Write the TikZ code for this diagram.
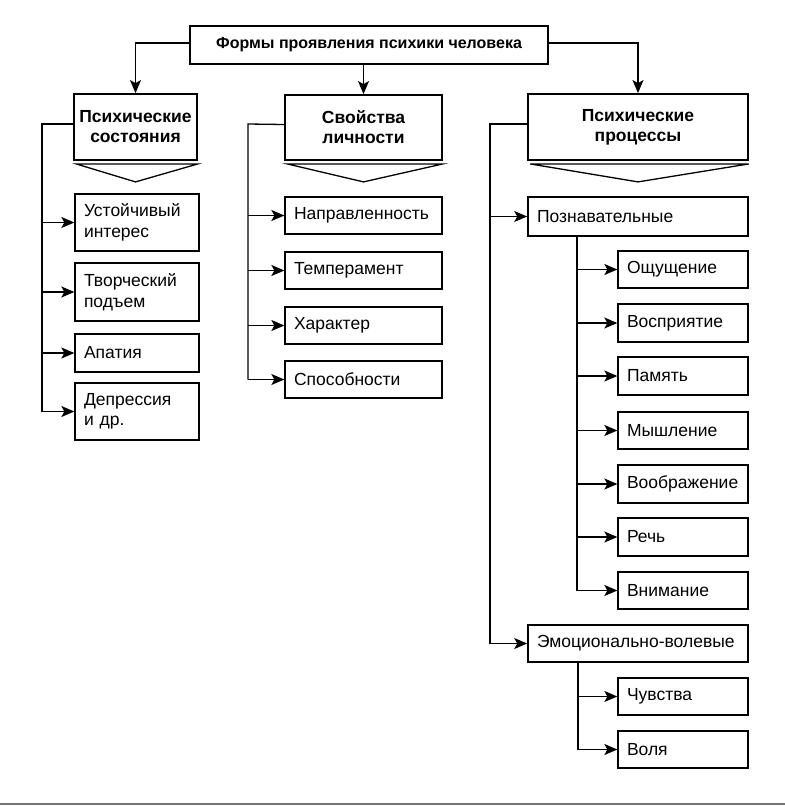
\documentclass[tikz,border=0pt]{standalone}
\usepackage{fontspec}
\setmainfont{Liberation Sans}
\usetikzlibrary{arrows.meta}
\begin{document}
\begin{tikzpicture}[x=1pt,y=-1pt,
  box/.style={draw, line width=1.3pt, inner xsep=9pt, inner ysep=1pt, align=left, font=\fontsize{17.5}{20.5}\selectfont},
  head/.style={draw, line width=1.8pt, align=center, font=\bfseries\fontsize{17.5}{20}\selectfont},
  conn/.style={line width=1.3pt},
  arr/.style={line width=1.3pt, -{Stealth[length=13pt,width=11pt,inset=3pt]}},
  tri/.style={line width=1.3pt}]
\useasboundingbox (0,0) rectangle (785,807);
\fill[white] (0,0) rectangle (785,807);

% title
\node[head, minimum width=358pt, minimum height=38pt, font=\bfseries\fontsize{16}{19}\selectfont] (t) at (369,45) {Формы проявления психики человека};

% headers
\node[head, minimum width=123pt, minimum height=66pt] (h1) at (135.5,127) {Психические\\состояния};
\node[head, minimum width=157pt, minimum height=65pt] (h2) at (363.5,127.5) {Свойства\\личности};
\node[head, minimum width=220pt, minimum height=66pt] (h3) at (638,127) {Психические\\процессы};

% triangles
\foreach \h in {h1,h2,h3}{
  \draw[tri] ([xshift=3pt,yshift=-3pt]\h.south west) -- ([yshift=-3pt]\h.south east) -- ([yshift=-21pt]\h.south) -- cycle;
}

% title connectors
\coordinate (tl) at (t.west |- 0,43);
\coordinate (tr) at (t.east |- 0,43);
\draw[arr] (tl) -| (h1.north);
\draw[arr] (tr) -| (h3.north);
\draw[arr] (t.south -| h2.north) -- (h2.north);

% column 1
\node[box, minimum width=124pt, minimum height=57pt, text width=106pt] (a1) at (137,222.5) {Устойчивый\\интерес};
\node[box, minimum width=124pt, minimum height=58pt, text width=106pt] (a2) at (137,292) {Творческий\\подъем};
\node[box, minimum width=124pt, minimum height=38pt, text width=106pt] (a3) at (137,353) {Апатия};
\node[box, minimum width=124pt, minimum height=57pt, text width=106pt] (a4) at (137,411.5) {Депрессия\\и др.};
\coordinate (k1) at (42,124);
\draw[conn] ([yshift=3pt]h1.west) -- (k1) -- (k1 |- a4.west);
\foreach \b in {a1,a2,a3,a4}{ \draw[arr] (k1 |- \b.west) -- (\b.west); }

% column 2
\node[box, minimum width=157pt, minimum height=37pt, text width=139pt] (b1) at (363.5,215.5) {Направленность};
\node[box, minimum width=157pt, minimum height=37pt, text width=139pt] (b2) at (363.5,270.5) {Темперамент};
\node[box, minimum width=157pt, minimum height=37pt, text width=139pt] (b3) at (363.5,325.5) {Характер};
\node[box, minimum width=157pt, minimum height=37pt, text width=139pt] (b4) at (363.5,379.5) {Способности};
\coordinate (k2) at (248,124);
\draw[conn] ([yshift=3pt]h2.west) -- (k2) -- (k2 |- b4.west);
\foreach \b in {b1,b2,b3,b4}{ \draw[arr] (k2 |- \b.west) -- (\b.west); }

% column 3
\node[box, line width=1.6pt, minimum width=220pt, minimum height=39pt, text width=202pt] (p) at (638,216.5) {Познавательные};
\node[box, line width=1.6pt, minimum width=220pt, minimum height=37pt, text width=202pt] (e) at (638,643.5) {Эмоционально-волевые};
\coordinate (k3) at (490,124);
\draw[conn] ([yshift=3pt]h3.west) -- (k3) -- (k3 |- e.west);
\draw[arr] (k3 |- p.west) -- (p.west);
\draw[arr] (k3 |- e.west) -- (e.west);

\node[box, minimum width=130pt, minimum height=37pt, text width=112pt] (c1) at (683,269.5) {Ощущение};
\node[box, minimum width=130pt, minimum height=38pt, text width=112pt] (c2) at (683,323) {Восприятие};
\node[box, minimum width=130pt, minimum height=38pt, text width=112pt] (c3) at (683,376) {Память};
\node[box, minimum width=130pt, minimum height=37pt, text width=112pt] (c4) at (683,430.5) {Мышление};
\node[box, minimum width=130pt, minimum height=38pt, text width=112pt] (c5) at (683,484) {Воображение};
\node[box, minimum width=130pt, minimum height=38pt, text width=112pt] (c6) at (683,537) {Речь};
\node[box, minimum width=130pt, minimum height=37pt, text width=112pt] (c7) at (683,590.5) {Внимание};
\coordinate (s1) at (577,0);
\draw[conn] (s1 |- p.south) -- (s1 |- c7.west);
\foreach \b in {c1,c2,c3,c4,c5,c6,c7}{ \draw[arr] (s1 |- \b.west) -- (\b.west); }

\node[box, minimum width=130pt, minimum height=37pt, text width=112pt] (d1) at (683,696.5) {Чувства};
\node[box, minimum width=130pt, minimum height=37pt, text width=112pt] (d2) at (683,749.5) {Воля};
\coordinate (s2) at (578,0);
\draw[conn] (s2 |- e.south) -- (s2 |- d2.west);
\foreach \b in {d1,d2}{ \draw[arr] (s2 |- \b.west) -- (\b.west); }

% bottom scan edge
\draw[line width=2pt, black!55] (0,804) -- (785,804);
\end{tikzpicture}
\end{document}
